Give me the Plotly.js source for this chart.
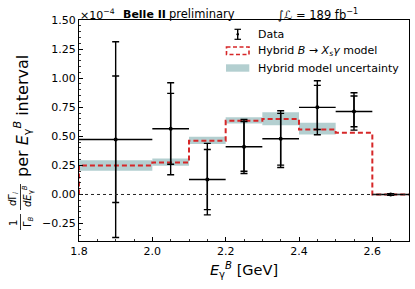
<!DOCTYPE html>
<html>
<head>
<meta charset="utf-8">
<script src="https://cdn.plot.ly/plotly-3.0.1.min.js"></script>
<style>html,body{margin:0;padding:0;background:#fff;}#chart{width:415px;height:289px;}</style>
</head>
<body>
<div id="chart"></div>
<script>
// ---- data (units of 1e-4) ----
const binEdges   = [1.8, 2.0, 2.1, 2.2, 2.3, 2.4, 2.5, 2.6, 2.7];
const binCenters = [1.9, 2.05, 2.15, 2.25, 2.35, 2.45, 2.55, 2.65];
const binHalfWidths = [0.1, 0.05, 0.05, 0.05, 0.05, 0.05, 0.05, 0.05];
const dataValues = [0.473, 0.565, 0.129, 0.410, 0.479, 0.749, 0.713, 0.000];
const statErrUp   = [0.545, 0.304, 0.258, 0.218, 0.218, 0.189, 0.133, 0.004];
const statErrDown = [0.542, 0.305, 0.259, 0.210, 0.227, 0.190, 0.131, 0.004];
const totErrUp    = [0.840, 0.395, 0.310, 0.235, 0.241, 0.229, 0.161, 0.007];
const totErrDown  = [0.843, 0.396, 0.304, 0.230, 0.247, 0.236, 0.160, 0.007];
const modelValues = [0.250, 0.275, 0.461, 0.633, 0.648, 0.559, 0.530, 0.000];
const bandLower   = [0.203, 0.246, 0.433, 0.611, 0.596, 0.516, null, null];
const bandUpper   = [0.295, 0.310, 0.496, 0.663, 0.706, 0.616, null, null];
const yTickVals = [-0.25, 0, 0.25, 0.5, 0.75, 1.0, 1.25, 1.5];
const xTickVals = [1.8, 2.0, 2.2, 2.4, 2.6];

const RED = '#d62728';
const BAND = '#b3cfd0';
const FONT = 'DejaVu Sans';

// step line for model
const stepX = [binEdges[0]].concat(binEdges.slice(0, binEdges.length - 1)).concat([binEdges[binEdges.length - 1]]);
const stepY = [0].concat(modelValues).concat([modelValues[modelValues.length - 1]]);

const traces = [
  {
    type: 'bar', x: binCenters,
    width: binHalfWidths.map(w => 2 * w),
    base: bandLower,
    y: bandUpper.map((u, i) => (u === null ? null : u - bandLower[i])),
    marker: {color: BAND, line: {width: 0}},
    hoverinfo: 'skip', showlegend: false
  },
  {
    type: 'scatter', mode: 'lines', x: stepX, y: stepY,
    line: {shape: 'hv', color: RED, width: 2, dash: '5px,3px'},
    hoverinfo: 'skip', showlegend: false
  },
  {
    type: 'scatter', mode: 'markers', x: binCenters, y: dataValues,
    marker: {size: 1, color: 'black'},
    error_y: {type: 'data', symmetric: false, array: totErrUp, arrayminus: totErrDown,
              color: 'black', thickness: 1.4, width: 3.5},
    showlegend: false, hoverinfo: 'skip'
  },
  {
    type: 'scatter', mode: 'markers', x: binCenters, y: dataValues,
    marker: {size: 4, color: 'black'},
    error_y: {type: 'data', symmetric: false, array: statErrUp, arrayminus: statErrDown,
              color: 'black', thickness: 1.4, width: 3.5},
    error_x: {type: 'data', array: binHalfWidths, color: 'black', thickness: 1.4, width: 0},
    showlegend: false, hoverinfo: 'skip'
  }
];

// pixel helpers for layout decorations (plot area: l=79, t=20, w=330, h=221)
const px = p => (p - 79) / 330;
const py = p => 1 - (p - 20) / 221;

const ann = (text, x, y, opts) => Object.assign({
  text: text, xref: 'paper', yref: 'paper', x: px(x), y: py(y),
  xanchor: 'left', yanchor: 'middle', showarrow: false, borderpad: 0,
  font: {family: FONT, size: 11, color: 'black'}
}, opts || {});
const rot = (size) => ({textangle: -90, xanchor: 'center', font: {family: FONT, size: size, color: 'black'}});

const annotations = [
  ann('×10<sup>−4</sup>', 79, 14),
  ann('<b>Belle II</b>', 122, 14),
  ann('preliminary', 168, 14, {font: {family: FONT, size: 11.5, color: 'black'}}),
  ann('∫<i>ℒ</i> = 189 fb<sup>−1</sup>', 277, 14, {font: {family: FONT, size: 11.5, color: 'black'}}),
  ann('Data', 257, 34),
  ann('Hybrid <i>B</i> → <i>X<sub>s</sub>γ</i> model', 257, 51),
  ann('Hybrid model uncertainty', 257, 68),
  // y axis title
  ann('per <i>E</i><sub>γ</sub><sup><i>B</i></sup> interval', 22, 116, rot(16)),
  ann('1', 13, 223, rot(10)),
  ann('Γ<sub><i>B</i></sub>', 28, 222, rot(10)),
  ann('<i>d</i>Γ<sub><i>i</i></sub>', 13, 199, rot(10)),
  ann('<i>dE</i><sub>γ</sub><sup><i>B</i></sup>', 28, 196, rot(10))
];

const shapes = [
  {type: 'line', xref: 'paper', yref: 'y', x0: 0, x1: 1, y0: 0, y1: 0,
   line: {color: '#222', width: 1, dash: 'dot'}},
  // fraction bars
  {type: 'line', xref: 'paper', yref: 'paper', x0: px(20.5), x1: px(20.5), y0: py(214), y1: py(230),
   line: {color: 'black', width: 0.8}},
  {type: 'line', xref: 'paper', yref: 'paper', x0: px(20.5), x1: px(20.5), y0: py(184), y1: py(210),
   line: {color: 'black', width: 0.8}},
  // legend: data symbol
  {type: 'line', xref: 'paper', yref: 'paper', x0: px(237.7), x1: px(237.7), y0: py(29), y1: py(39.5),
   line: {color: 'black', width: 1.4}},
  {type: 'line', xref: 'paper', yref: 'paper', x0: px(234.5), x1: px(241), y0: py(29.3), y1: py(29.3),
   line: {color: 'black', width: 1.2}},
  {type: 'line', xref: 'paper', yref: 'paper', x0: px(234.5), x1: px(241), y0: py(39.3), y1: py(39.3),
   line: {color: 'black', width: 1.2}},
  {type: 'circle', xref: 'paper', yref: 'paper', x0: px(236.5), x1: px(239), y0: py(33.1), y1: py(35.6),
   fillcolor: 'black', line: {width: 0}},
  // legend: model rectangle
  {type: 'rect', xref: 'paper', yref: 'paper', x0: px(226.5), x1: px(249), y0: py(47), y1: py(54.5),
   line: {color: RED, width: 1.6, dash: '4px,2.5px'}},
  // legend: band rectangle
  {type: 'rect', xref: 'paper', yref: 'paper', x0: px(226), x1: px(249.3), y0: py(64.3), y1: py(71.7),
   fillcolor: BAND, line: {width: 0}}
];

const layout = {
  width: 415, height: 289,
  margin: {l: 79, r: 6, t: 20, b: 48, pad: 0},
  paper_bgcolor: 'white', plot_bgcolor: 'white',
  showlegend: false,
  barmode: 'overlay',
  font: {family: FONT, size: 11, color: 'black'},
  xaxis: {
    range: [1.8, 2.7], tickvals: xTickVals, tickformat: '.1f',
    ticks: 'inside', ticklen: 4, tickwidth: 1, tickcolor: 'black',
    showline: true, linecolor: 'black', linewidth: 1, mirror: true,
    showgrid: false, zeroline: false,
    tickfont: {family: FONT, size: 11, color: 'black'},
    minor: {ticks: 'inside', dtick: 0.05, tick0: 1.8, ticklen: 2, tickwidth: 0.8, tickcolor: 'black', showgrid: false},
    title: {text: '<i>E</i><sub>γ</sub><sup><i>B</i></sup> [GeV]', font: {family: FONT, size: 14.5, color: 'black'}, standoff: 7}
  },
  yaxis: {
    range: [-0.4, 1.5], tickvals: yTickVals, tickformat: '.2f',
    ticks: 'inside', ticklen: 4, tickwidth: 1, tickcolor: 'black',
    showline: true, linecolor: 'black', linewidth: 1, mirror: true,
    showgrid: false, zeroline: false,
    tickfont: {family: FONT, size: 11, color: 'black'},
    minor: {ticks: 'inside', dtick: 0.05, tick0: 0, ticklen: 2, tickwidth: 0.8, tickcolor: 'black', showgrid: false}
  },
  annotations: annotations,
  shapes: shapes
};

Plotly.newPlot('chart', traces, layout, {displayModeBar: false, staticPlot: true});
</script>
</body>
</html>
